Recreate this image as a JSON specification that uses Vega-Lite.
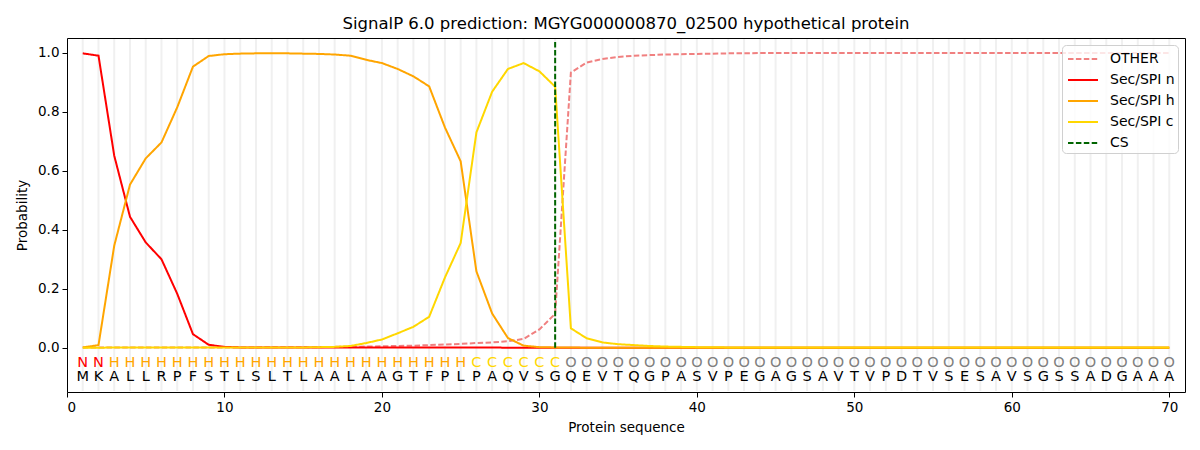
{
  "$schema": "https://vega.github.io/schema/vega-lite/v6.json",
  "autosize": {"type": "none"},
  "width": 1118,
  "height": 354,
  "padding": {"left": 67, "top": 38, "right": 15, "bottom": 58},
  "background": "white",
  "title": {
    "text": "SignalP 6.0 prediction: MGYG000000870_02500 hypothetical protein",
    "font": "DejaVu Sans",
    "fontSize": 16.5,
    "fontWeight": "normal",
    "color": "black",
    "anchor": "middle",
    "offset": 4
  },
  "datasets": {
    "seq": [
      {"pos": 1, "aa": "M", "region": "N", "OTHER": 0.001, "Sec/SPI n": 0.998, "Sec/SPI h": 0.001, "Sec/SPI c": 0.0},
      {"pos": 2, "aa": "K", "region": "N", "OTHER": 0.001, "Sec/SPI n": 0.99, "Sec/SPI h": 0.009, "Sec/SPI c": 0.0},
      {"pos": 3, "aa": "A", "region": "H", "OTHER": 0.001, "Sec/SPI n": 0.651, "Sec/SPI h": 0.346, "Sec/SPI c": 0.001},
      {"pos": 4, "aa": "L", "region": "H", "OTHER": 0.001, "Sec/SPI n": 0.444, "Sec/SPI h": 0.553, "Sec/SPI c": 0.001},
      {"pos": 5, "aa": "L", "region": "H", "OTHER": 0.001, "Sec/SPI n": 0.357, "Sec/SPI h": 0.642, "Sec/SPI c": 0.001},
      {"pos": 6, "aa": "R", "region": "H", "OTHER": 0.001, "Sec/SPI n": 0.3, "Sec/SPI h": 0.696, "Sec/SPI c": 0.001},
      {"pos": 7, "aa": "P", "region": "H", "OTHER": 0.001, "Sec/SPI n": 0.183, "Sec/SPI h": 0.815, "Sec/SPI c": 0.001},
      {"pos": 8, "aa": "F", "region": "H", "OTHER": 0.001, "Sec/SPI n": 0.046, "Sec/SPI h": 0.953, "Sec/SPI c": 0.001},
      {"pos": 9, "aa": "S", "region": "H", "OTHER": 0.001, "Sec/SPI n": 0.01, "Sec/SPI h": 0.989, "Sec/SPI c": 0.001},
      {"pos": 10, "aa": "T", "region": "H", "OTHER": 0.001, "Sec/SPI n": 0.003, "Sec/SPI h": 0.995, "Sec/SPI c": 0.001},
      {"pos": 11, "aa": "L", "region": "H", "OTHER": 0.001, "Sec/SPI n": 0.001, "Sec/SPI h": 0.997, "Sec/SPI c": 0.001},
      {"pos": 12, "aa": "S", "region": "H", "OTHER": 0.001, "Sec/SPI n": 0.001, "Sec/SPI h": 0.998, "Sec/SPI c": 0.001},
      {"pos": 13, "aa": "L", "region": "H", "OTHER": 0.002, "Sec/SPI n": 0.001, "Sec/SPI h": 0.998, "Sec/SPI c": 0.001},
      {"pos": 14, "aa": "T", "region": "H", "OTHER": 0.002, "Sec/SPI n": 0.001, "Sec/SPI h": 0.998, "Sec/SPI c": 0.001},
      {"pos": 15, "aa": "L", "region": "H", "OTHER": 0.002, "Sec/SPI n": 0.001, "Sec/SPI h": 0.997, "Sec/SPI c": 0.001},
      {"pos": 16, "aa": "A", "region": "H", "OTHER": 0.002, "Sec/SPI n": 0.001, "Sec/SPI h": 0.996, "Sec/SPI c": 0.002},
      {"pos": 17, "aa": "A", "region": "H", "OTHER": 0.003, "Sec/SPI n": 0.001, "Sec/SPI h": 0.994, "Sec/SPI c": 0.003},
      {"pos": 18, "aa": "L", "region": "H", "OTHER": 0.003, "Sec/SPI n": 0.001, "Sec/SPI h": 0.99, "Sec/SPI c": 0.006},
      {"pos": 19, "aa": "A", "region": "H", "OTHER": 0.004, "Sec/SPI n": 0.001, "Sec/SPI h": 0.976, "Sec/SPI c": 0.016},
      {"pos": 20, "aa": "A", "region": "H", "OTHER": 0.005, "Sec/SPI n": 0.001, "Sec/SPI h": 0.965, "Sec/SPI c": 0.028},
      {"pos": 21, "aa": "G", "region": "H", "OTHER": 0.006, "Sec/SPI n": 0.001, "Sec/SPI h": 0.945, "Sec/SPI c": 0.049},
      {"pos": 22, "aa": "T", "region": "H", "OTHER": 0.007, "Sec/SPI n": 0.001, "Sec/SPI h": 0.92, "Sec/SPI c": 0.071},
      {"pos": 23, "aa": "F", "region": "H", "OTHER": 0.009, "Sec/SPI n": 0.001, "Sec/SPI h": 0.886, "Sec/SPI c": 0.105},
      {"pos": 24, "aa": "P", "region": "H", "OTHER": 0.011, "Sec/SPI n": 0.001, "Sec/SPI h": 0.747, "Sec/SPI c": 0.238},
      {"pos": 25, "aa": "L", "region": "H", "OTHER": 0.013, "Sec/SPI n": 0.001, "Sec/SPI h": 0.632, "Sec/SPI c": 0.355},
      {"pos": 26, "aa": "P", "region": "C", "OTHER": 0.016, "Sec/SPI n": 0.001, "Sec/SPI h": 0.259, "Sec/SPI c": 0.73},
      {"pos": 27, "aa": "A", "region": "C", "OTHER": 0.018, "Sec/SPI n": 0.001, "Sec/SPI h": 0.116, "Sec/SPI c": 0.868},
      {"pos": 28, "aa": "Q", "region": "C", "OTHER": 0.022, "Sec/SPI n": 0.0, "Sec/SPI h": 0.033, "Sec/SPI c": 0.945},
      {"pos": 29, "aa": "V", "region": "C", "OTHER": 0.03, "Sec/SPI n": 0.0, "Sec/SPI h": 0.007, "Sec/SPI c": 0.965},
      {"pos": 30, "aa": "S", "region": "C", "OTHER": 0.062, "Sec/SPI n": 0.0, "Sec/SPI h": 0.002, "Sec/SPI c": 0.937},
      {"pos": 31, "aa": "G", "region": "C", "OTHER": 0.115, "Sec/SPI n": 0.0, "Sec/SPI h": 0.001, "Sec/SPI c": 0.885},
      {"pos": 32, "aa": "Q", "region": "O", "OTHER": 0.933, "Sec/SPI n": 0.0, "Sec/SPI h": 0.001, "Sec/SPI c": 0.066},
      {"pos": 33, "aa": "E", "region": "O", "OTHER": 0.967, "Sec/SPI n": 0.0, "Sec/SPI h": 0.0, "Sec/SPI c": 0.032},
      {"pos": 34, "aa": "V", "region": "O", "OTHER": 0.979, "Sec/SPI n": 0.0, "Sec/SPI h": 0.0, "Sec/SPI c": 0.018},
      {"pos": 35, "aa": "T", "region": "O", "OTHER": 0.986, "Sec/SPI n": 0.0, "Sec/SPI h": 0.0, "Sec/SPI c": 0.012},
      {"pos": 36, "aa": "Q", "region": "O", "OTHER": 0.99, "Sec/SPI n": 0.0, "Sec/SPI h": 0.0, "Sec/SPI c": 0.009},
      {"pos": 37, "aa": "G", "region": "O", "OTHER": 0.992, "Sec/SPI n": 0.0, "Sec/SPI h": 0.0, "Sec/SPI c": 0.006},
      {"pos": 38, "aa": "P", "region": "O", "OTHER": 0.994, "Sec/SPI n": 0.0, "Sec/SPI h": 0.0, "Sec/SPI c": 0.004},
      {"pos": 39, "aa": "A", "region": "O", "OTHER": 0.995, "Sec/SPI n": 0.0, "Sec/SPI h": 0.0, "Sec/SPI c": 0.003},
      {"pos": 40, "aa": "S", "region": "O", "OTHER": 0.996, "Sec/SPI n": 0.0, "Sec/SPI h": 0.0, "Sec/SPI c": 0.002},
      {"pos": 41, "aa": "V", "region": "O", "OTHER": 0.997, "Sec/SPI n": 0.0, "Sec/SPI h": 0.0, "Sec/SPI c": 0.002},
      {"pos": 42, "aa": "P", "region": "O", "OTHER": 0.998, "Sec/SPI n": 0.0, "Sec/SPI h": 0.0, "Sec/SPI c": 0.001},
      {"pos": 43, "aa": "E", "region": "O", "OTHER": 0.998, "Sec/SPI n": 0.0, "Sec/SPI h": 0.0, "Sec/SPI c": 0.001},
      {"pos": 44, "aa": "G", "region": "O", "OTHER": 0.999, "Sec/SPI n": 0.0, "Sec/SPI h": 0.0, "Sec/SPI c": 0.001},
      {"pos": 45, "aa": "A", "region": "O", "OTHER": 0.999, "Sec/SPI n": 0.0, "Sec/SPI h": 0.0, "Sec/SPI c": 0.001},
      {"pos": 46, "aa": "G", "region": "O", "OTHER": 0.999, "Sec/SPI n": 0.0, "Sec/SPI h": 0.0, "Sec/SPI c": 0.001},
      {"pos": 47, "aa": "S", "region": "O", "OTHER": 0.999, "Sec/SPI n": 0.0, "Sec/SPI h": 0.0, "Sec/SPI c": 0.001},
      {"pos": 48, "aa": "A", "region": "O", "OTHER": 0.999, "Sec/SPI n": 0.0, "Sec/SPI h": 0.0, "Sec/SPI c": 0.001},
      {"pos": 49, "aa": "V", "region": "O", "OTHER": 0.999, "Sec/SPI n": 0.0, "Sec/SPI h": 0.0, "Sec/SPI c": 0.001},
      {"pos": 50, "aa": "T", "region": "O", "OTHER": 0.999, "Sec/SPI n": 0.0, "Sec/SPI h": 0.0, "Sec/SPI c": 0.001},
      {"pos": 51, "aa": "V", "region": "O", "OTHER": 0.999, "Sec/SPI n": 0.0, "Sec/SPI h": 0.0, "Sec/SPI c": 0.001},
      {"pos": 52, "aa": "P", "region": "O", "OTHER": 0.999, "Sec/SPI n": 0.0, "Sec/SPI h": 0.0, "Sec/SPI c": 0.001},
      {"pos": 53, "aa": "D", "region": "O", "OTHER": 0.999, "Sec/SPI n": 0.0, "Sec/SPI h": 0.0, "Sec/SPI c": 0.001},
      {"pos": 54, "aa": "T", "region": "O", "OTHER": 0.999, "Sec/SPI n": 0.0, "Sec/SPI h": 0.0, "Sec/SPI c": 0.001},
      {"pos": 55, "aa": "V", "region": "O", "OTHER": 0.999, "Sec/SPI n": 0.0, "Sec/SPI h": 0.0, "Sec/SPI c": 0.001},
      {"pos": 56, "aa": "S", "region": "O", "OTHER": 0.999, "Sec/SPI n": 0.0, "Sec/SPI h": 0.0, "Sec/SPI c": 0.001},
      {"pos": 57, "aa": "E", "region": "O", "OTHER": 0.999, "Sec/SPI n": 0.0, "Sec/SPI h": 0.0, "Sec/SPI c": 0.001},
      {"pos": 58, "aa": "S", "region": "O", "OTHER": 0.999, "Sec/SPI n": 0.0, "Sec/SPI h": 0.0, "Sec/SPI c": 0.001},
      {"pos": 59, "aa": "A", "region": "O", "OTHER": 0.999, "Sec/SPI n": 0.0, "Sec/SPI h": 0.0, "Sec/SPI c": 0.001},
      {"pos": 60, "aa": "V", "region": "O", "OTHER": 0.999, "Sec/SPI n": 0.0, "Sec/SPI h": 0.0, "Sec/SPI c": 0.001},
      {"pos": 61, "aa": "S", "region": "O", "OTHER": 0.999, "Sec/SPI n": 0.0, "Sec/SPI h": 0.0, "Sec/SPI c": 0.001},
      {"pos": 62, "aa": "G", "region": "O", "OTHER": 0.999, "Sec/SPI n": 0.0, "Sec/SPI h": 0.0, "Sec/SPI c": 0.001},
      {"pos": 63, "aa": "S", "region": "O", "OTHER": 0.999, "Sec/SPI n": 0.0, "Sec/SPI h": 0.0, "Sec/SPI c": 0.001},
      {"pos": 64, "aa": "S", "region": "O", "OTHER": 0.999, "Sec/SPI n": 0.0, "Sec/SPI h": 0.0, "Sec/SPI c": 0.001},
      {"pos": 65, "aa": "A", "region": "O", "OTHER": 0.999, "Sec/SPI n": 0.0, "Sec/SPI h": 0.0, "Sec/SPI c": 0.001},
      {"pos": 66, "aa": "D", "region": "O", "OTHER": 0.999, "Sec/SPI n": 0.0, "Sec/SPI h": 0.0, "Sec/SPI c": 0.001},
      {"pos": 67, "aa": "G", "region": "O", "OTHER": 0.999, "Sec/SPI n": 0.0, "Sec/SPI h": 0.0, "Sec/SPI c": 0.001},
      {"pos": 68, "aa": "A", "region": "O", "OTHER": 0.999, "Sec/SPI n": 0.0, "Sec/SPI h": 0.0, "Sec/SPI c": 0.001},
      {"pos": 69, "aa": "A", "region": "O", "OTHER": 0.999, "Sec/SPI n": 0.0, "Sec/SPI h": 0.0, "Sec/SPI c": 0.001},
      {"pos": 70, "aa": "A", "region": "O", "OTHER": 0.999, "Sec/SPI n": 0.0, "Sec/SPI h": 0.0, "Sec/SPI c": 0.001}
    ],
    "cs": [
      {"pos": 31, "series": "CS", "p": 0},
      {"pos": 31, "series": "CS", "p": 1.04}
    ]
  },
  "data": {"name": "seq"},
  "layer": [
    {
      "mark": {"type": "rule", "color": "#f0f0f0", "strokeWidth": 2},
      "encoding": {
        "x": {"field": "pos", "type": "quantitative"},
        "y": {"datum": -0.147},
        "y2": {"datum": 1.047}
      }
    },
    {
      "layer": [
        {
          "transform": [
            {"fold": ["OTHER", "Sec/SPI n", "Sec/SPI h", "Sec/SPI c"], "as": ["series", "p"]}
          ],
          "mark": {"type": "line", "strokeWidth": 2},
          "encoding": {
            "x": {"field": "pos", "type": "quantitative"},
            "y": {"field": "p", "type": "quantitative"},
            "color": {"field": "series", "type": "nominal"},
            "strokeDash": {"field": "series", "type": "nominal"}
          }
        },
        {
          "data": {"name": "cs"},
          "mark": {"type": "line", "strokeWidth": 2},
          "encoding": {
            "x": {"field": "pos", "type": "quantitative"},
            "y": {"field": "p", "type": "quantitative"},
            "color": {"field": "series", "type": "nominal"},
            "strokeDash": {"field": "series", "type": "nominal"}
          }
        }
      ]
    },
    {
      "transform": [{"filter": "datum.region === 'N'"}],
      "mark": {"type": "text", "font": "DejaVu Sans", "fontSize": 14.5, "baseline": "middle", "color": "red"},
      "encoding": {
        "x": {"field": "pos", "type": "quantitative"},
        "y": {"datum": -0.05},
        "text": {"field": "region"}
      }
    },
    {
      "transform": [{"filter": "datum.region === 'H'"}],
      "mark": {"type": "text", "font": "DejaVu Sans", "fontSize": 14.5, "baseline": "middle", "color": "orange"},
      "encoding": {
        "x": {"field": "pos", "type": "quantitative"},
        "y": {"datum": -0.05},
        "text": {"field": "region"}
      }
    },
    {
      "transform": [{"filter": "datum.region === 'C'"}],
      "mark": {"type": "text", "font": "DejaVu Sans", "fontSize": 14.5, "baseline": "middle", "color": "gold"},
      "encoding": {
        "x": {"field": "pos", "type": "quantitative"},
        "y": {"datum": -0.05},
        "text": {"field": "region"}
      }
    },
    {
      "transform": [{"filter": "datum.region === 'O'"}],
      "mark": {"type": "text", "font": "DejaVu Sans", "fontSize": 14.5, "baseline": "middle", "color": "gray"},
      "encoding": {
        "x": {"field": "pos", "type": "quantitative"},
        "y": {"datum": -0.05},
        "text": {"field": "region"}
      }
    },
    {
      "mark": {"type": "text", "font": "DejaVu Sans", "fontSize": 14.5, "baseline": "middle", "color": "black"},
      "encoding": {
        "x": {"field": "pos", "type": "quantitative"},
        "y": {"datum": -0.1},
        "text": {"field": "aa"}
      }
    }
  ],
  "encoding": {
    "x": {
      "type": "quantitative",
      "scale": {"domain": [0, 71], "nice": false, "zero": false},
      "axis": {
        "title": "Protein sequence",
        "values": [0, 10, 20, 30, 40, 50, 60, 70],
        "format": "d",
        "grid": false,
        "domain": false,
        "tickColor": "black",
        "tickSize": 5,
        "labelPadding": 3,
        "titlePadding": 7
      }
    },
    "y": {
      "type": "quantitative",
      "scale": {"domain": [-0.15, 1.05], "nice": false, "zero": false},
      "axis": {
        "title": "Probability",
        "values": [0, 0.2, 0.4, 0.6, 0.8, 1.0],
        "format": ".1f",
        "grid": false,
        "domain": false,
        "tickColor": "black",
        "tickSize": 5,
        "labelPadding": 3,
        "titlePadding": 8
      }
    },
    "color": {
      "scale": {
        "domain": ["OTHER", "Sec/SPI n", "Sec/SPI h", "Sec/SPI c", "CS"],
        "range": ["#f08080", "red", "orange", "gold", "darkgreen"]
      },
      "legend": {"title": null}
    },
    "strokeDash": {
      "scale": {
        "domain": ["OTHER", "Sec/SPI n", "Sec/SPI h", "Sec/SPI c", "CS"],
        "range": [[5.5, 2.4], [1, 0], [1, 0], [1, 0], [5.5, 2.4]]
      },
      "legend": {"title": null}
    }
  },
  "config": {
    "view": {"stroke": "black", "strokeWidth": 1},
    "axis": {
      "labelFont": "DejaVu Sans",
      "labelFontSize": 13.5,
      "labelColor": "black",
      "titleFont": "DejaVu Sans",
      "titleFontSize": 13.5,
      "titleFontWeight": "normal",
      "titleColor": "black"
    },
    "legend": {
      "orient": "top-right",
      "offset": 7,
      "padding": 3,
      "rowPadding": 3,
      "cornerRadius": 4,
      "strokeColor": "#d0d0d0",
      "fillColor": "rgba(255,255,255,0.8)",
      "labelFont": "DejaVu Sans",
      "labelFontSize": 14,
      "labelColor": "black",
      "labelOffset": 23,
      "symbolType": "M-0.8,0H2.2",
      "symbolSize": 400,
      "symbolStrokeWidth": 2
    }
  }
}
